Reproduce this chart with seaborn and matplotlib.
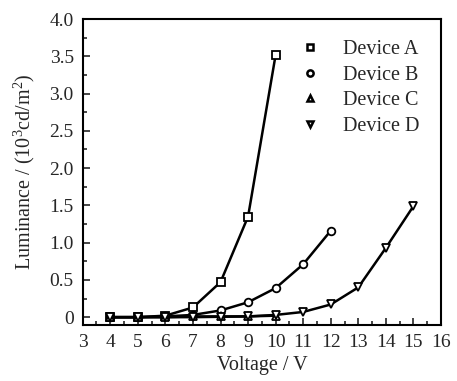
import matplotlib
matplotlib.use("Agg")
import matplotlib.pyplot as plt
import seaborn as sns
import pandas as pd
from matplotlib.lines import Line2D
from matplotlib.ticker import MultipleLocator, FuncFormatter

sns.set_style("ticks")
plt.rcParams['font.family'] = ['Liberation Serif', 'DejaVu Serif']
plt.rcParams['mathtext.fontset'] = 'custom'
plt.rcParams['mathtext.rm'] = 'Liberation Serif'

devices = ["Device A", "Device B", "Device C", "Device D"]
markers = ["s", "o", "^", "v"]

volt_a = [4, 5, 6, 7, 8, 9, 10]
lum_a = [0.0, 0.0, 0.02, 0.13, 0.47, 1.35, 3.52]
volt_b = [4, 5, 6, 7, 8, 9, 10, 11, 12]
lum_b = [0.0, 0.0, 0.01, 0.03, 0.09, 0.20, 0.39, 0.71, 1.16]
volt_c = [4, 5, 6, 7, 8, 9, 10]
lum_c = [0.0, 0.0, 0.0, 0.01, 0.01, 0.01, 0.02]
volt_d = [4, 5, 6, 7, 8, 9, 10, 11, 12, 13, 14, 15]
lum_d = [0.0, 0.0, 0.0, 0.0, 0.005, 0.01, 0.03, 0.07, 0.17, 0.40, 0.93, 1.49]

xs = [volt_a, volt_b, volt_c, volt_d]
ys = [lum_a, lum_b, lum_c, lum_d]

fig = plt.figure(figsize=(4.57, 3.81), dpi=100)
ax = fig.add_axes([0.181, 0.148, 0.784, 0.802])

for name, m, x, y in zip(devices, markers, xs, ys):
    df = pd.DataFrame({"V": x, "L": y})
    sns.lineplot(data=df, x="V", y="L", ax=ax, color="black", lw=1.8,
                 marker=m, markersize=5.5, markerfacecolor="white",
                 markeredgecolor="black", markeredgewidth=1.3, legend=False)

ax.set_xlim(3, 16)
ax.set_ylim(-0.1, 4.0)
ax.xaxis.set_major_locator(MultipleLocator(1))
ax.xaxis.set_minor_locator(MultipleLocator(0.5))
ax.yaxis.set_major_locator(MultipleLocator(0.5))
ax.yaxis.set_minor_locator(MultipleLocator(0.25))
ax.yaxis.set_major_formatter(FuncFormatter(lambda v, p: "0" if abs(v) < 1e-9 else f"{v:.1f}"))
ax.tick_params(which="both", direction="in", top=False, right=False, width=1.2)
ax.tick_params(which="major", length=5, labelsize=14, pad=6.5)
ax.tick_params(which="minor", length=3)
for s in ax.spines.values():
    s.set_linewidth(1.5)
    s.set_color("black")

ax.set_xlabel("Voltage / V", fontsize=14.5, labelpad=4)
ax.set_ylabel(r"Luminance / (10$^3$cd/m$^2$)", fontsize=14.5, labelpad=9)

handles = [Line2D([], [], ls="none", marker=m, color="black", markersize=4.5,
                  markerfacecolor="white", markeredgewidth=1.8) for m in markers]
ax.legend(handles, devices, loc="upper right", frameon=False, fontsize=14.5,
          handletextpad=0.65, labelspacing=0.32, bbox_to_anchor=(0.99, 0.99))

fig.savefig("out.png", dpi=100)
